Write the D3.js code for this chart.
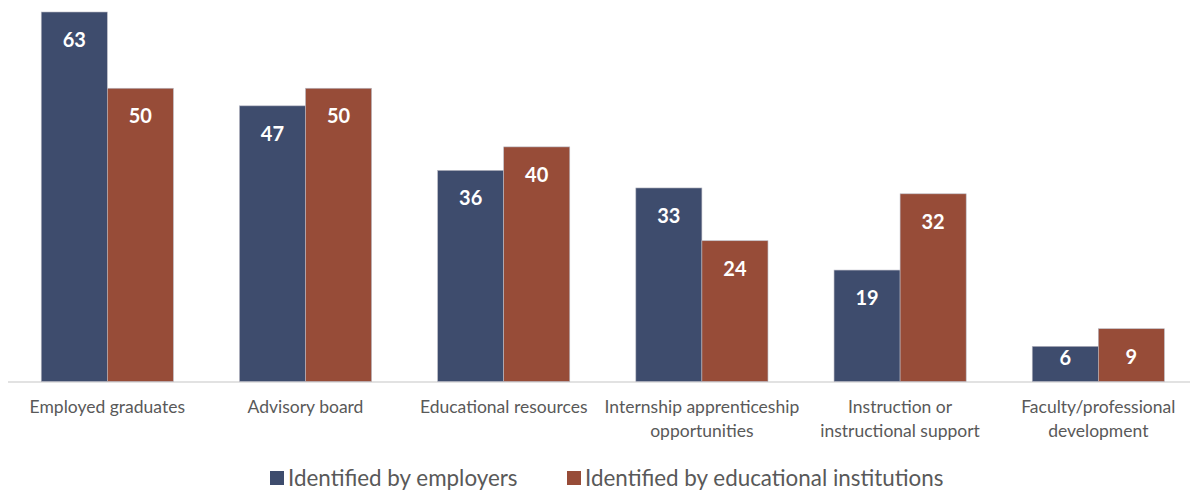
<!DOCTYPE html>
<html>
<head>
<meta charset="utf-8">
<script src="https://cdn.jsdelivr.net/npm/d3@7"></script>
<style>
  body { margin: 0; background: #fff; }
  svg { display: block; font-family: Lato, "Open Sans", sans-serif; }
</style>
</head>
<body>
<div id="chart"></div>
<script>
// data
const categories = [
  ["Employed graduates"],
  ["Advisory board"],
  ["Educational resources"],
  ["Internship apprenticeship", "opportunities"],
  ["Instruction or", "instructional support"],
  ["Faculty/professional", "development"]
];
const seriesNames = ["Identified by employers", "Identified by educational institutions"];
const employers = [63, 47, 36, 33, 19, 6];
const institutions = [50, 50, 40, 24, 32, 9];
const colors = ["#3e4c6d", "#974c38"];

const width = 1190, height = 494;
const x0 = 8.2, x1 = 1197.4, baseY = 381.5, topY = 12;

const svg = d3.select("#chart").append("svg")
  .attr("width", width)
  .attr("height", height);

const xScale = d3.scaleBand()
  .domain(d3.range(categories.length))
  .range([x0, x1])
  .paddingInner(1 / 3)
  .paddingOuter(1 / 6);

const subScale = d3.scaleBand()
  .domain([0, 1])
  .range([0, xScale.bandwidth()]);

const yScale = d3.scaleLinear()
  .domain([0, 63])
  .range([baseY, topY]);

const rows = categories.map((c, i) => ({ i, vals: [employers[i], institutions[i]] }));

// axis line
svg.append("line")
  .attr("x1", 8).attr("x2", width)
  .attr("y1", baseY + 0.5).attr("y2", baseY + 0.5)
  .attr("stroke", "#d9d9d9")
  .attr("stroke-width", 1.5);

const groups = svg.selectAll(".grp")
  .data(rows)
  .join("g")
  .attr("class", "grp")
  .attr("transform", d => `translate(${xScale(d.i)},0)`);

const bars = groups.selectAll(".bar")
  .data(d => d.vals.map((v, s) => ({ v, s })))
  .join("g")
  .attr("class", "bar");

bars.append("rect")
  .attr("x", d => subScale(d.s))
  .attr("y", d => yScale(d.v))
  .attr("width", subScale.bandwidth())
  .attr("height", d => baseY - yScale(d.v))
  .attr("fill", d => colors[d.s])
  .attr("stroke", "#b9b9c4")
  .attr("stroke-width", 0.6);

// value labels, inside end (short bars pull the label up)
bars.append("text")
  .attr("x", d => subScale(d.s) + subScale.bandwidth() / 2)
  .attr("y", d => yScale(d.v) + Math.min(28, baseY - yScale(d.v) - 24))
  .attr("dy", "0.35em")
  .attr("text-anchor", "middle")
  .attr("fill", "#fff")
  .attr("font-weight", "bold")
  .attr("font-size", 20)
  .text(d => d.v);

// category labels
const labels = svg.selectAll(".cat")
  .data(rows)
  .join("text")
  .attr("class", "cat")
  .attr("x", d => xScale(d.i) + xScale.bandwidth() / 2)
  .attr("y", 407)
  .attr("text-anchor", "middle")
  .attr("fill", "#595959")
  .attr("font-size", 17.5);

labels.selectAll("tspan")
  .data(d => categories[d.i])
  .join("tspan")
  .attr("x", function () { return this.parentNode.getAttribute("x"); })
  .attr("dy", (d, i) => i === 0 ? "0.35em" : 24)
  .text(d => d);

// legend
const legendX = [270, 567];
const legend = svg.selectAll(".leg")
  .data(seriesNames)
  .join("g")
  .attr("class", "leg")
  .attr("transform", (d, i) => `translate(${legendX[i]},478)`);

legend.append("rect")
  .attr("x", 0).attr("y", -7)
  .attr("width", 14).attr("height", 14)
  .attr("fill", (d, i) => colors[i]);

legend.append("text")
  .attr("x", 18)
  .attr("dy", "0.35em")
  .attr("fill", "#595959")
  .attr("font-size", 22.4)
  .text(d => d);
</script>
</body>
</html>
